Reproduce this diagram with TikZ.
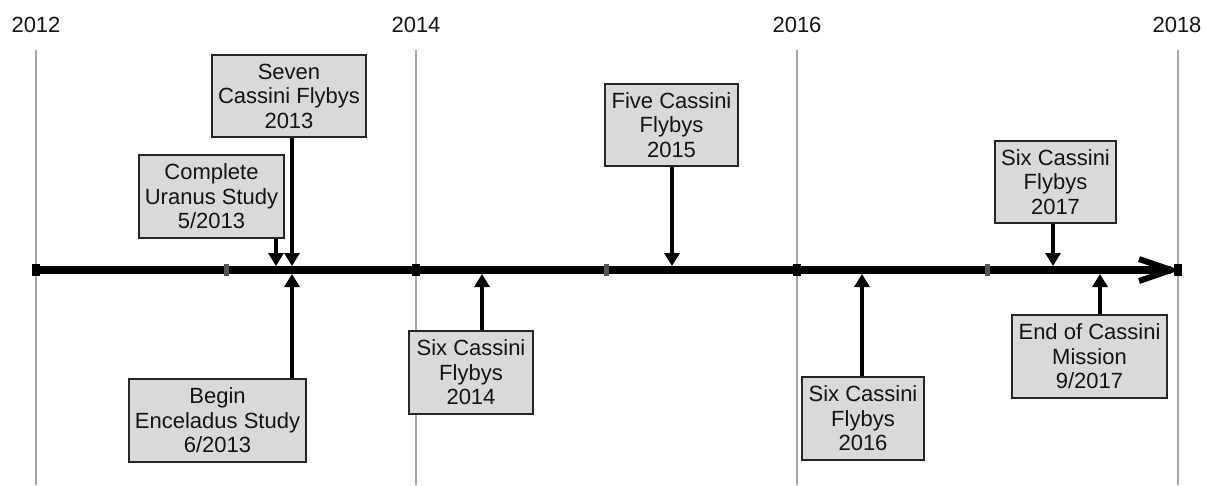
\documentclass[tikz,border=0pt]{standalone}
\usepackage{fontspec}
\setmainfont{Liberation Sans}
\usetikzlibrary{arrows.meta}
\definecolor{boxfill}{HTML}{D9D9D9}
\definecolor{boxborder}{HTML}{262626}
\definecolor{gridc}{HTML}{A6A6A6}
\definecolor{txt}{HTML}{141414}
\definecolor{minortick}{HTML}{555555}
\begin{document}
\begin{tikzpicture}[x=1pt,y=-1pt,
  font=\fontsize{22}{24.5}\selectfont,
  evbox/.style={draw=boxborder, line width=1.5pt, fill=boxfill, align=center,
    inner sep=0pt, text=txt},
  yearlbl/.style={text=txt, inner sep=0pt},
  gridline/.style={draw=gridc, line width=1.3pt},
  axisline/.style={line width=7.5pt},
  axishead/.style={line width=6pt, line join=miter, miter limit=10},
  evarrow/.style={line width=4.6pt, -{Triangle[length=13pt,width=15pt]}},
  tickmark/.style={fill=black, draw=none},
  minormark/.style={fill=minortick, draw=none}]
\useasboundingbox (0,0) rectangle (1206,485);

% year labels
\node[yearlbl] (y2012) at (36,25) {2012};
\node[yearlbl] (y2014) at (416,25) {2014};
\node[yearlbl] (y2016) at (797,25) {2016};
\node[yearlbl] (y2018) at (1177,25) {2018};

% grid lines
\foreach \n/\x in {a/36,b/416,c/797,d/1178}{
  \coordinate (gt\n) at (\x,50);
  \coordinate (gb\n) at (\x,485);
  \draw[gridline] (gt\n) -- (gb\n);
}

% axis
\coordinate (axL) at (36,270);
\coordinate (axR) at (1171,270);
\coordinate (headT) at (1139,259);
\coordinate (headB) at (1139,281);
\draw[axisline] (axL) -- (axR);
\draw[axishead] (headT) -- (axR) -- (headB);

% tick marks
\foreach \x in {36,416,797,1178}{
  \fill[tickmark] (\x-4,264) rectangle (\x+4,276);
}
\foreach \x in {226,606,987}{
  \fill[minormark] (\x-2.5,264) rectangle (\x+2.5,276);
}

% event boxes
\node[evbox, minimum width=154pt, minimum height=82pt] (seven) at (289,96)
  {Seven\\Cassini Flybys\\2013};
\node[evbox, minimum width=145pt, minimum height=83pt] (uranus) at (211.5,196.5)
  {Complete\\Uranus Study\\5/2013};
\node[evbox, minimum width=177pt, minimum height=83pt] (encel) at (217.5,420.5)
  {Begin\\Enceladus Study\\6/2013};
\node[evbox, minimum width=124pt, minimum height=83pt] (six14) at (471,372.5)
  {Six Cassini\\Flybys\\2014};
\node[evbox, minimum width=133pt, minimum height=82pt] (five15) at (671.5,125)
  {Five Cassini\\Flybys\\2015};
\node[evbox, minimum width=122pt, minimum height=83pt] (six16) at (863,418.5)
  {Six Cassini\\Flybys\\2016};
\node[evbox, minimum width=121pt, minimum height=82pt] (six17) at (1055.5,182)
  {Six Cassini\\Flybys\\2017};
\node[evbox, minimum width=155pt, minimum height=83pt] (end17) at (1089.5,356.5)
  {End of Cassini\\Mission\\9/2017};

% event points on axis
\coordinate (pSeven) at (292,266);
\coordinate (pUranus) at (276,266);
\coordinate (pEncel) at (292,274);
\coordinate (pSix14) at (482,274);
\coordinate (pFive) at (672,266);
\coordinate (pSix16) at (862,274);
\coordinate (pSix17) at (1053,266);
\coordinate (pEnd) at (1100,274);

% connectors
\draw[evarrow] (seven.south -| pSeven) -- (pSeven);
\draw[evarrow] (uranus.south -| pUranus) -- (pUranus);
\draw[evarrow] (encel.north -| pEncel) -- (pEncel);
\draw[evarrow] (six14.north -| pSix14) -- (pSix14);
\draw[evarrow] (five15.south -| pFive) -- (pFive);
\draw[evarrow] (six16.north -| pSix16) -- (pSix16);
\draw[evarrow] (six17.south -| pSix17) -- (pSix17);
\draw[evarrow] (end17.north -| pEnd) -- (pEnd);
\end{tikzpicture}
\end{document}
